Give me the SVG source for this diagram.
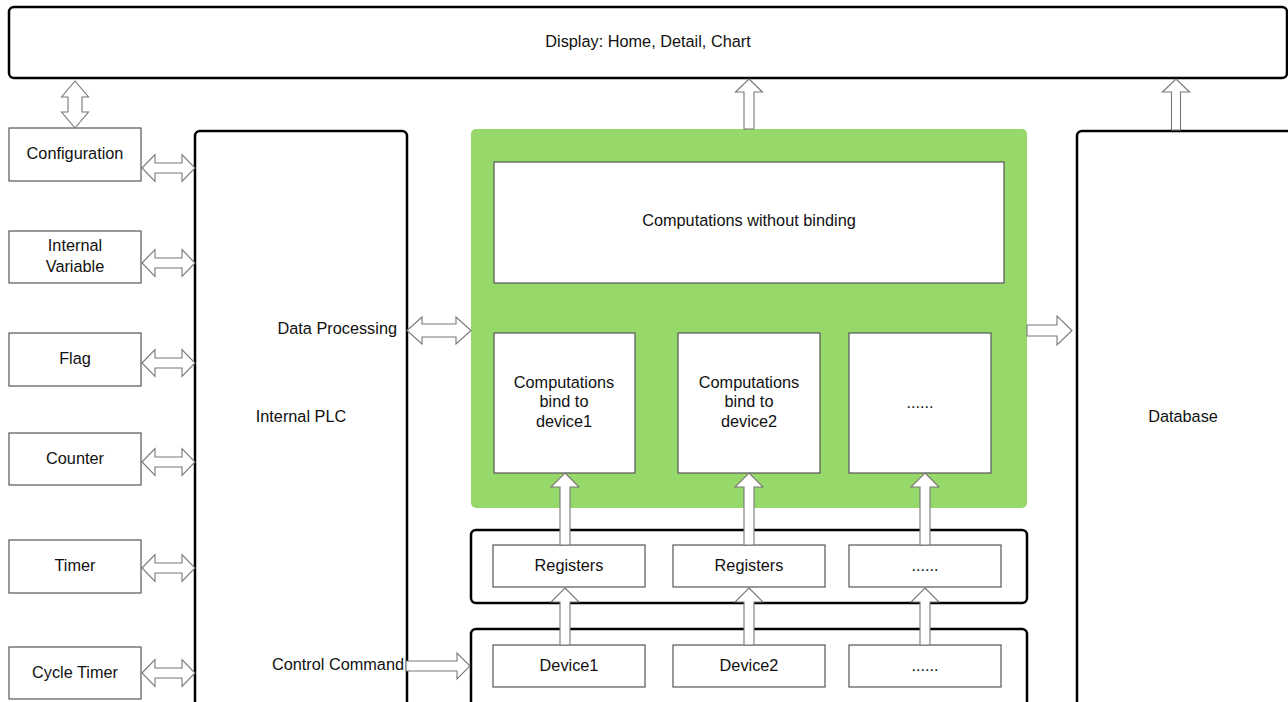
<svg xmlns="http://www.w3.org/2000/svg" width="1288" height="702" viewBox="0 0 1288 702">
  <style>
    .frame { fill: #ffffff; stroke: #000000; stroke-width: 2.5; }
    .box { fill: #ffffff; stroke: #555555; stroke-width: 1.2; }
    .group { fill: #96d96a; stroke: none; }
    .arrow { fill: #ffffff; stroke: #777777; stroke-width: 1.1; stroke-linejoin: miter; }
    .label { font-family: "Liberation Sans", Arial, sans-serif; font-size: 16.3px; fill: #111111; text-anchor: middle; dominant-baseline: central; }
    .right { text-anchor: end; }
  </style>
  <defs>
    <!-- double-headed horizontal arrow, 53 long, centred on y=0 -->
    <path id="dbl-h" d="M0,0 L13,-13.5 L13,-5 L40,-5 L40,-13.5 L53,0 L40,13.5 L40,5 L13,5 L13,13.5 Z"/>
    <!-- single up arrows with shaft, tip at 0,0 -->
    <path id="up-short" d="M0,0 L14,14 L5,14 L5,72 L-5,72 L-5,14 L-14,14 Z"/>
    <path id="up-dev" d="M0,0 L14,14 L5,14 L5,57 L-5,57 L-5,14 L-14,14 Z"/>
  </defs>

  <!-- Display -->
  <g id="display">
    <rect class="frame" x="9" y="7" width="1278" height="71" rx="5"/>
    <text class="label" x="648" y="41">Display: Home, Detail, Chart</text>
  </g>

  <!-- Left side modules -->
  <g id="configuration">
    <rect class="box" x="9" y="128" width="132" height="53"/>
    <text class="label" x="75" y="153">Configuration</text>
  </g>
  <g id="internal-variable">
    <rect class="box" x="9" y="231" width="132" height="52"/>
    <text class="label" x="75" y="245">Internal</text>
    <text class="label" x="75" y="266">Variable</text>
  </g>
  <g id="flag">
    <rect class="box" x="9" y="333" width="132" height="53"/>
    <text class="label" x="75" y="358">Flag</text>
  </g>
  <g id="counter">
    <rect class="box" x="9" y="433" width="132" height="52"/>
    <text class="label" x="75" y="458">Counter</text>
  </g>
  <g id="timer">
    <rect class="box" x="9" y="540" width="132" height="53"/>
    <text class="label" x="75" y="565">Timer</text>
  </g>
  <g id="cycle-timer">
    <rect class="box" x="9" y="647" width="132" height="52"/>
    <text class="label" x="75" y="672">Cycle Timer</text>
  </g>

  <!-- Internal PLC -->
  <g id="internal-plc">
    <rect class="frame" x="195" y="131" width="212" height="600" rx="5"/>
    <text class="label right" x="397" y="328">Data Processing</text>
    <text class="label" x="301" y="416">Internal PLC</text>
    <text class="label right" x="404" y="664">Control Command</text>
  </g>

  <!-- Computation area -->
  <g id="computations">
    <rect class="group" x="471" y="129" width="556" height="379" rx="5"/>
  </g>
  <g id="computations-unbound">
    <rect class="box" x="494" y="162" width="510" height="121"/>
    <text class="label" x="749" y="220">Computations without binding</text>
  </g>
  <g id="computations-device1">
    <rect class="box" x="494" y="333" width="141" height="140"/>
    <text class="label" x="564" y="382">Computations</text>
    <text class="label" x="564" y="401">bind to</text>
    <text class="label" x="564" y="421">device1</text>
  </g>
  <g id="computations-device2">
    <rect class="box" x="678" y="333" width="142" height="140"/>
    <text class="label" x="749" y="382">Computations</text>
    <text class="label" x="749" y="401">bind to</text>
    <text class="label" x="749" y="421">device2</text>
  </g>
  <g id="computations-more">
    <rect class="box" x="849" y="333" width="142" height="140"/>
    <text class="label" x="920" y="402">......</text>
  </g>

  <!-- Registers -->
  <g id="registers">
    <rect class="frame" x="471" y="530" width="556" height="73" rx="5"/>
  </g>
  <g id="registers-1">
    <rect class="box" x="493" y="545" width="152" height="42"/>
    <text class="label" x="569" y="565">Registers</text>
  </g>
  <g id="registers-2">
    <rect class="box" x="673" y="545" width="152" height="42"/>
    <text class="label" x="749" y="565">Registers</text>
  </g>
  <g id="registers-more">
    <rect class="box" x="849" y="545" width="152" height="42"/>
    <text class="label" x="925" y="565">......</text>
  </g>

  <!-- Devices -->
  <g id="devices">
    <rect class="frame" x="471" y="629" width="556" height="120" rx="5"/>
  </g>
  <g id="device-1">
    <rect class="box" x="493" y="645" width="152" height="42"/>
    <text class="label" x="569" y="665">Device1</text>
  </g>
  <g id="device-2">
    <rect class="box" x="673" y="645" width="152" height="42"/>
    <text class="label" x="749" y="665">Device2</text>
  </g>
  <g id="device-more">
    <rect class="box" x="849" y="645" width="152" height="42"/>
    <text class="label" x="925" y="665">......</text>
  </g>

  <!-- Database -->
  <g id="database">
    <rect class="frame" x="1077" y="131" width="220" height="600" rx="5"/>
    <text class="label" x="1183" y="416">Database</text>
  </g>

  <!-- Connectors -->
  <g id="connectors">
    <!-- Display <-> Configuration -->
    <path class="arrow" d="M75,81 L88.5,97 L82,97 L82,112 L88.5,112 L75,128 L61.5,112 L68,112 L68,97 L61.5,97 Z"/>
    <!-- left modules <-> Internal PLC -->
    <use class="arrow" href="#dbl-h" transform="translate(142,168)"/>
    <use class="arrow" href="#dbl-h" transform="translate(142,263)"/>
    <use class="arrow" href="#dbl-h" transform="translate(142,363)"/>
    <use class="arrow" href="#dbl-h" transform="translate(142,462)"/>
    <use class="arrow" href="#dbl-h" transform="translate(142,568)"/>
    <use class="arrow" href="#dbl-h" transform="translate(142,673)"/>
    <!-- Data Processing <-> computations -->
    <path class="arrow" d="M407,330.5 L422,317 L422,324 L456,324 L456,317 L471,330.5 L456,344 L456,337 L422,337 L422,344 Z"/>
    <!-- Control Command -> devices -->
    <path class="arrow" d="M406,661 L457,661 L457,653 L470,666 L457,679 L457,671 L406,671 Z"/>
    <!-- computations -> Display -->
    <path class="arrow" d="M749,79 L762.5,92 L754,92 L754,129 L744,129 L744,92 L735.5,92 Z"/>
    <!-- Database -> Display -->
    <path class="arrow" d="M1176,79 L1189.5,92 L1180.5,92 L1180.5,130 L1171.5,130 L1171.5,92 L1162.5,92 Z"/>
    <!-- computations -> Database -->
    <path class="arrow" d="M1027,325 L1057,325 L1057,316 L1072,330.5 L1057,345 L1057,336 L1027,336 Z"/>
    <!-- registers -> bound computations -->
    <use class="arrow" href="#up-short" transform="translate(565,473)"/>
    <use class="arrow" href="#up-short" transform="translate(749,473)"/>
    <use class="arrow" href="#up-short" transform="translate(925,473)"/>
    <!-- devices -> registers -->
    <use class="arrow" href="#up-dev" transform="translate(565,588)"/>
    <use class="arrow" href="#up-dev" transform="translate(749,588)"/>
    <use class="arrow" href="#up-dev" transform="translate(925,588)"/>
  </g>
</svg>
